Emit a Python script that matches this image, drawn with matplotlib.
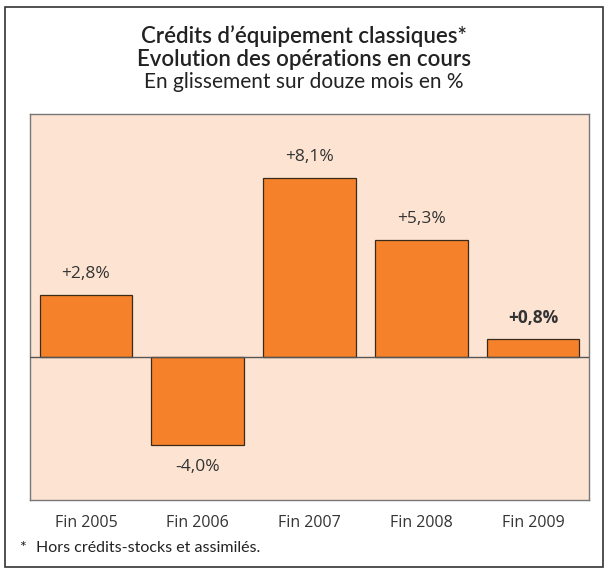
import matplotlib
matplotlib.use("Agg")
import matplotlib.pyplot as plt
from matplotlib.patches import Rectangle

categories = ["Fin 2005", "Fin 2006", "Fin 2007", "Fin 2008", "Fin 2009"]
values = [2.8, -4.0, 8.1, 5.3, 0.8]
labels = ["+2,8%", "-4,0%", "+8,1%", "+5,3%", "+0,8%"]
bold_labels = [False, False, False, False, True]

plt.rcParams['font.family'] = ['Lato', 'DejaVu Sans']

W, H = 608, 569
fig = plt.figure(figsize=(W/100, H/100), dpi=100)

# outer frame
fig.patches.append(Rectangle((5/W, 1 - 567/H), 598/W, 560/H, transform=fig.transFigure,
                             fill=False, edgecolor='#333333', linewidth=1.2))

fig.text(0.5, 1 - 36/H, "Crédits d’équipement classiques*", ha='center', va='center',
         fontsize=16, fontweight='semibold', color='#222222')
fig.text(0.5, 1 - 59/H, "Evolution des opérations en cours", ha='center', va='center',
         fontsize=16, fontweight='semibold', color='#222222')
fig.text(0.5, 1 - 82/H, "En glissement sur douze mois en %", ha='center', va='center',
         fontsize=15, color='#222222')

left, right, top, bottom = 30, 589, 114, 500
ax = fig.add_axes([left/W, 1 - bottom/H, (right-left)/W, (bottom-top)/H])
ax.set_facecolor('#FDE4D2')
x = list(range(len(categories)))
ax.bar(x, values, width=0.83, color='#F5822A', edgecolor='#3a2a1a', linewidth=0.9, zorder=2)
ax.axhline(0, color='#555555', linewidth=1.0, zorder=3)
ax.set_xlim(-0.5, 4.5)
ax.set_ylim(-6.5, 11.0)
ax.set_yticks([])
ax.set_xticks(x)
ax.set_xticklabels(categories, fontsize=11.5, color='#333333', family=['Open Sans', 'DejaVu Sans'])
ax.tick_params(axis='x', length=0, pad=11)
for s in ax.spines.values():
    s.set_color('#777777')
    s.set_linewidth(1.0)

for xi, v, lab, b in zip(x, values, labels, bold_labels):
    off = 0.95 if v >= 0 else -1.0
    ax.text(xi, v + off, lab, ha='center', va='center', fontsize=12.5,
            fontweight='bold' if b else 'normal', color='#333333',
            family=['Open Sans', 'DejaVu Sans'])

fig.text(19/W, 1 - 548/H, "*", ha='left', va='center', fontsize=11.5, color='#222222')
fig.text(36/W, 1 - 548/H, "Hors crédits-stocks et assimilés.", ha='left', va='center',
         fontsize=11.5, color='#222222')

fig.savefig("out.png", dpi=100)
